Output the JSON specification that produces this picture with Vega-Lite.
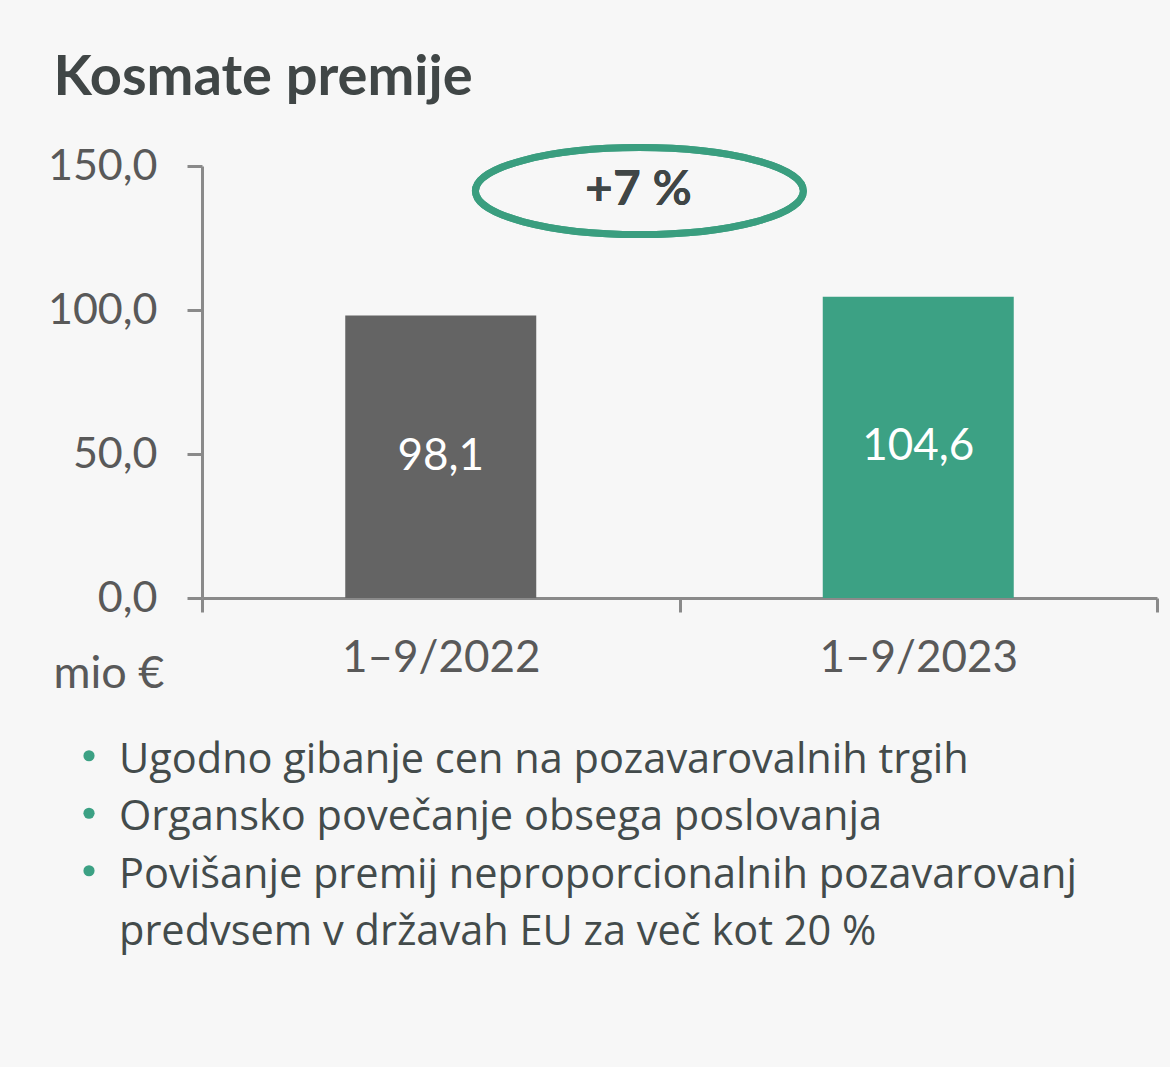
{
  "$schema": "https://vega.github.io/schema/vega-lite/v6.json",
  "background": "#f7f7f7",
  "padding": {"left": 47, "top": 49, "right": 15, "bottom": 120},
  "title": {
    "text": "Kosmate premije",
    "anchor": "start",
    "font": "Lato",
    "fontSize": 56,
    "fontWeight": "bold",
    "color": "#404646",
    "dx": 6,
    "offset": 27
  },
  "config": {
    "locale": {"number": {"decimal": ",", "thousands": ".", "grouping": [3], "currency": ["", " €"]}},
    "view": {"stroke": null},
    "concat": {"spacing": 36}
  },
  "vconcat": [
    {
      "width": 955,
      "height": 432,
      "data": {
        "values": [
          {"period": "1–9/2022", "value": 98.1},
          {"period": "1–9/2023", "value": 104.6}
        ]
      },
      "resolve": {"scale": {"x": "independent", "y": "independent"}},
      "layer": [
        {
          "mark": {"type": "bar", "width": {"band": 0.4}},
          "encoding": {
            "x": {
              "field": "period",
              "type": "nominal",
              "sort": null,
              "scale": {"paddingInner": 0, "paddingOuter": 0},
              "axis": {
                "title": null,
                "labelAngle": 0,
                "labelLimit": 0,
                "labelFont": "Lato",
                "labelFontSize": 44,
                "labelColor": "#595959",
                "labelPadding": 24,
                "tickBand": "extent",
                "tickSize": 14,
                "tickWidth": 3,
                "tickColor": "#8a8a8a",
                "domainColor": "#8a8a8a",
                "domainWidth": 3
              }
            },
            "y": {
              "field": "value",
              "type": "quantitative",
              "scale": {"domain": [0, 150]},
              "axis": {
                "values": [0, 50, 100, 150],
                "format": ".1f",
                "grid": false,
                "labelFont": "Lato",
                "labelFontSize": 43,
                "labelColor": "#595959",
                "labelPadding": 30,
                "tickSize": 15,
                "tickWidth": 3,
                "tickColor": "#8a8a8a",
                "domainColor": "#8a8a8a",
                "domainWidth": 3,
                "title": "mio €",
                "titleAngle": 0,
                "titleFont": "Lato",
                "titleFontSize": 45,
                "titleFontWeight": "normal",
                "titleColor": "#595959",
                "titleAlign": "left",
                "titleBaseline": "alphabetic",
                "titleX": -149,
                "titleY": 521
              }
            },
            "color": {
              "field": "period",
              "type": "nominal",
              "scale": {"domain": ["1–9/2022", "1–9/2023"], "range": ["#646464", "#3ca184"]},
              "legend": null
            }
          }
        },
        {
          "mark": {"type": "text", "color": "#ffffff", "font": "Lato", "fontSize": 44, "baseline": "middle"},
          "encoding": {
            "x": {
              "field": "period",
              "type": "nominal",
              "sort": null,
              "scale": {"paddingInner": 0, "paddingOuter": 0},
              "axis": null
            },
            "y": {
              "field": "value",
              "type": "quantitative",
              "scale": {"domain": [0, 300]},
              "axis": null
            },
            "text": {"field": "value", "type": "quantitative", "format": ".1f"}
          }
        },
        {
          "mark": {
            "type": "point",
            "shape": "M-1,0C-1,-0.1464,-0.5523,-0.265,0,-0.265C0.5523,-0.265,1,-0.1464,1,0C1,0.1464,0.5523,0.265,0,0.265C-0.5523,0.265,-1,0.1464,-1,0Z",
            "filled": false,
            "stroke": "#3a9e7f",
            "strokeWidth": 7,
            "opacity": 1,
            "size": 107584
          },
          "encoding": {
            "x": {"datum": 0.458, "type": "quantitative", "scale": {"domain": [0, 1]}, "axis": null},
            "y": {"datum": 141.3, "type": "quantitative", "scale": {"domain": [0, 150]}, "axis": null}
          }
        },
        {
          "mark": {"type": "text", "font": "Lato", "fontSize": 48, "fontWeight": "bold", "color": "#404646", "baseline": "middle"},
          "encoding": {
            "x": {"datum": 0.457, "type": "quantitative", "scale": {"domain": [0, 1]}, "axis": null},
            "y": {"datum": 141.3, "type": "quantitative", "scale": {"domain": [0, 150]}, "axis": null},
            "text": {"value": "+7 %"}
          }
        }
      ]
    },
    {
      "width": 955,
      "height": 230,
      "data": {
        "values": [
          {"line": 1, "text": "Ugodno gibanje cen na pozavarovalnih trgih", "bullet": true},
          {"line": 2, "text": "Organsko povečanje obsega poslovanja", "bullet": true},
          {"line": 3, "text": "Povišanje premij neproporcionalnih pozavarovanj", "bullet": true},
          {"line": 4, "text": "predvsem v državah EU za več kot 20 %", "bullet": false}
        ]
      },
      "layer": [
        {
          "transform": [{"filter": {"field": "bullet", "equal": true}}],
          "mark": {"type": "point", "shape": "circle", "filled": true, "color": "#3ca184", "opacity": 1, "size": 125},
          "encoding": {
            "x": {"datum": -113, "type": "quantitative", "scale": {"domain": [0, 955]}, "axis": null},
            "y": {"field": "line", "type": "ordinal", "scale": {"paddingInner": 0, "paddingOuter": 0}, "axis": null},
            "yOffset": {"value": -5}
          }
        },
        {
          "mark": {"type": "text", "font": "Open Sans", "fontSize": 41.5, "color": "#434b4b", "align": "left", "baseline": "middle"},
          "encoding": {
            "x": {"datum": -83, "type": "quantitative", "scale": {"domain": [0, 955]}, "axis": null},
            "y": {"field": "line", "type": "ordinal", "scale": {"paddingInner": 0, "paddingOuter": 0}, "axis": null},
            "text": {"field": "text", "type": "nominal"}
          }
        }
      ]
    }
  ]
}
